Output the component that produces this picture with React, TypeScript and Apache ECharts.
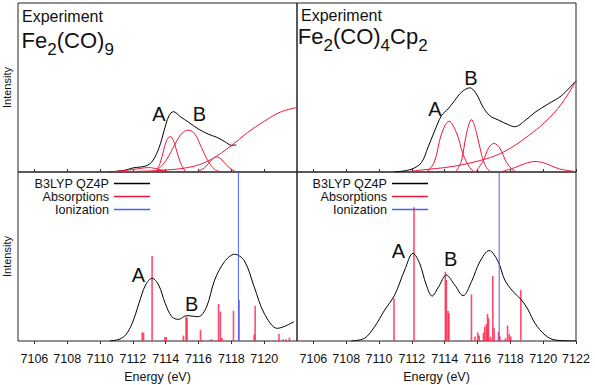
import React, { useEffect, useRef } from 'react';
import * as echarts from 'echarts';

// ---------- data ----------
const X_MIN = 7105;
const X_MAX = 7122;
const tickValuesLeft = [7106, 7108, 7110, 7112, 7114, 7116, 7118, 7120];
const tickValuesRight = [7106, 7108, 7110, 7112, 7114, 7116, 7118, 7120, 7122];

const panelTitles = ['Experiment', 'Experiment'];
const peakLabels = ['A', 'B'];
const legendNames = ['B3LYP QZ4P', 'Absorptions', 'Ionization'];

// Top-left: experiment Fe2(CO)9
const expFe2CO9: [number, number][] = [
  [7110.5, 0.0], [7111.5, 0.01], [7112.0, 0.024], [7112.8, 0.036], [7113.2, 0.065],
  [7113.6, 0.145], [7113.9, 0.244], [7114.2, 0.333], [7114.47, 0.357], [7114.9, 0.327],
  [7115.4, 0.294], [7116.0, 0.254], [7116.6, 0.224], [7117.1, 0.206], [7117.6, 0.18],
  [7118.0, 0.158], [7118.3, 0.16],
];
const fitFe2CO9Pre: [number, number][] = [
  [7110.56, 0.0], [7111.96, 0.014], [7112.97, 0.026], [7113.57, 0.016], [7114.17, 0.002],
];
const fitFe2CO9A: [number, number][] = [
  [7113.4, 0.0], [7113.65, 0.05], [7113.88, 0.13], [7114.05, 0.185], [7114.27, 0.21],
  [7114.48, 0.185], [7114.68, 0.12], [7114.92, 0.05], [7115.2, 0.0],
];
const fitFe2CO9B: [number, number][] = [
  [7113.37, 0.0], [7114.0, 0.065], [7114.57, 0.165], [7114.98, 0.228], [7115.38, 0.248],
  [7115.78, 0.224], [7116.18, 0.145], [7116.58, 0.065], [7116.98, 0.016], [7117.4, 0.0],
];
const fitFe2CO9C: [number, number][] = [
  [7115.98, 0.004], [7116.38, 0.026], [7116.78, 0.07], [7117.08, 0.089], [7117.39, 0.075],
  [7117.79, 0.032], [7118.19, 0.006], [7118.5, 0.0],
];
const fitFe2CO9Edge: [number, number][] = [
  [7110.56, 0.0], [7112.97, 0.006], [7114.57, 0.016], [7115.78, 0.036], [7116.78, 0.075],
  [7117.99, 0.155], [7118.99, 0.234], [7120.0, 0.3], [7121.0, 0.355], [7122.0, 0.382],
];

// Top-right: experiment Fe2(CO)4Cp2
const expFe2CO4Cp2: [number, number][] = [
  [7110.95, 0.0], [7111.96, 0.016], [7112.58, 0.056], [7112.98, 0.145], [7113.39, 0.244],
  [7113.8, 0.333], [7114.2, 0.373], [7114.61, 0.423], [7115.02, 0.472], [7115.53, 0.498],
  [7115.93, 0.462], [7116.34, 0.383], [7116.75, 0.333], [7117.26, 0.308], [7117.87, 0.28],
  [7118.27, 0.268], [7118.89, 0.304], [7119.5, 0.353], [7120.31, 0.403], [7121.12, 0.452],
  [7122.0, 0.54],
];
const fitCpA: [number, number][] = [
  [7112.78, 0.0], [7112.98, 0.006], [7113.39, 0.065], [7113.8, 0.224], [7114.26, 0.3],
  [7114.71, 0.234], [7115.12, 0.105], [7115.53, 0.026], [7115.83, 0.0],
];
const fitCpB: [number, number][] = [
  [7114.71, 0.006], [7115.02, 0.065], [7115.32, 0.224], [7115.63, 0.31], [7115.93, 0.234],
  [7116.24, 0.105], [7116.54, 0.026], [7116.84, 0.0],
];
const fitCpC: [number, number][] = [
  [7115.93, 0.006], [7116.34, 0.065], [7116.69, 0.145], [7117.01, 0.169], [7117.36, 0.141],
  [7117.77, 0.056], [7118.17, 0.01], [7118.47, 0.0],
];
const fitCpD: [number, number][] = [
  [7117.46, 0.002], [7118.27, 0.026], [7118.89, 0.05], [7119.5, 0.062], [7120.1, 0.052],
  [7120.92, 0.02], [7122.0, 0.002],
];
const fitCpEdge: [number, number][] = [
  [7111.76, 0.002], [7112.98, 0.016], [7114.0, 0.026], [7115.02, 0.042], [7116.04, 0.065],
  [7117.05, 0.095], [7118.07, 0.145], [7119.09, 0.214], [7120.1, 0.294], [7121.12, 0.403],
  [7122.0, 0.54],
];

// Bottom-left: B3LYP QZ4P Fe2(CO)9
const calcFe2CO9: [number, number][] = [
  [7110.6, 0.0], [7111.16, 0.01], [7111.56, 0.036], [7111.96, 0.105], [7112.37, 0.223],
  [7112.77, 0.331], [7113.17, 0.371], [7113.57, 0.331], [7113.97, 0.223], [7114.37, 0.144],
  [7114.78, 0.128], [7115.28, 0.15], [7115.98, 0.144], [7116.48, 0.2], [7116.98, 0.36],
  [7117.59, 0.47], [7118.19, 0.513], [7118.79, 0.475], [7119.39, 0.321], [7120.0, 0.164],
  [7120.8, 0.075], [7121.2, 0.085], [7121.82, 0.114],
];
const sticksFe2CO9: [number, number][] = [
  [7112.57, 0.051], [7112.65, 0.049], [7113.17, 0.503], [7113.95, 0.024], [7114.03, 0.024],
  [7115.08, 0.032], [7115.24, 0.144], [7115.3, 0.138], [7116.12, 0.065], [7116.22, 0.006],
  [7116.78, 0.012], [7117.22, 0.219], [7117.33, 0.174], [7117.43, 0.018], [7118.13, 0.179],
  [7118.47, 0.243], [7119.39, 0.039], [7119.45, 0.207], [7120.9, 0.041], [7121.16, 0.01],
  [7121.32, 0.01], [7121.54, 0.02],
];
const ionFe2CO9 = 7118.43;

// Bottom-right: B3LYP QZ4P Fe2(CO)4Cp2
const calcFe2CO4Cp2: [number, number][] = [
  [7108.3, 0.0], [7109.11, 0.016], [7109.73, 0.085], [7110.34, 0.183], [7110.95, 0.272],
  [7111.56, 0.42], [7112.07, 0.519], [7112.47, 0.46], [7112.88, 0.331], [7113.23, 0.266],
  [7113.63, 0.321], [7114.1, 0.39], [7114.61, 0.331], [7115.12, 0.268], [7115.63, 0.351],
  [7116.14, 0.469], [7116.71, 0.535], [7117.26, 0.469], [7117.66, 0.361], [7118.17, 0.292],
  [7118.68, 0.243], [7119.09, 0.183], [7119.5, 0.105], [7120.11, 0.036], [7120.72, 0.006],
  [7122.0, 0.0],
];
const sticksFe2CO4Cp2: [number, number][] = [
  [7110.91, 0.252], [7112.13, 0.791], [7114.04, 0.41], [7114.1, 0.361], [7114.2, 0.178],
  [7114.26, 0.164], [7115.63, 0.276], [7115.85, 0.026], [7116.02, 0.051], [7116.1, 0.032],
  [7116.36, 0.049], [7116.44, 0.085], [7116.54, 0.1], [7116.61, 0.16], [7116.67, 0.134],
  [7116.79, 0.026], [7116.93, 0.385], [7117.01, 0.075], [7117.28, 0.055], [7117.36, 0.026],
  [7117.7, 0.016], [7117.83, 0.091], [7117.93, 0.041], [7118.03, 0.026], [7118.64, 0.302],
];
const ionFe2CO4Cp2 = 7117.32;

// ---------- styles ----------
const FONT = 'Liberation Sans, Arial, Helvetica, sans-serif';
const RED = 'rgb(240,24,56)';
const STICK = 'rgba(255,30,70,0.8)';
const BLUE = '#4a62f0';
const BLACK = '#000';
const LEGEND_ICON = 'path://M0,0H36V1.3H0Z';

const W = 595;
const H = 385;
const PL = 18; // plot left
const PW = 279; // panel width
const PT = 3; // top
const PH = 169; // panel height

export default function App() {
  const ref = useRef<HTMLDivElement>(null);

  useEffect(() => {
    if (!ref.current) return;
    const chart = echarts.init(ref.current, undefined, { renderer: 'svg' });

    const grids = [
      { left: PL, top: PT, width: PW, height: PH },
      { left: PL + PW, top: PT, width: PW, height: PH },
      { left: PL, top: PT + PH, width: PW, height: PH },
      { left: PL + PW, top: PT + PH, width: PW, height: PH },
    ].map((g) => ({ ...g, show: true, borderColor: '#222', borderWidth: 1, backgroundColor: 'transparent' }));

    const xAxes = [0, 1, 2, 3].map((i) => {
      const bottom = i >= 2;
      const ticks = i % 2 === 0 ? tickValuesLeft : tickValuesRight;
      return {
        type: 'value',
        gridIndex: i,
        min: X_MIN,
        max: X_MAX,
        axisLine: { show: false },
        splitLine: { show: false },
        axisTick: {
          show: true,
          inside: !bottom,
          length: 3,
          customValues: ticks,
          lineStyle: { color: '#333', width: 1 },
        },
        axisLabel: {
          show: bottom,
          customValues: ticks,
          margin: 11,
          fontSize: 12.5,
          fontFamily: FONT,
          color: '#111',
          showMinLabel: true,
          showMaxLabel: true,
          formatter: (v: number) => String(v),
        },
        name: bottom ? 'Energy (eV)' : '',
        nameLocation: 'middle',
        nameGap: 29,
        nameTextStyle: { fontSize: 12.5, fontFamily: FONT, color: '#111' },
      };
    });

    const yAxes = [0, 1, 2, 3].map((i) => ({
      type: 'value',
      gridIndex: i,
      min: 0,
      max: 1,
      axisLine: { show: false },
      axisTick: { show: false },
      axisLabel: { show: false },
      splitLine: { show: false },
      name: i % 2 === 0 ? 'Intensity' : '',
      nameLocation: 'middle',
      nameGap: 6,
      nameTextStyle: { fontSize: 11, fontFamily: FONT, color: '#111' },
    }));

    const line = (name: string, data: [number, number][], idx: number, color: string, width = 1) => ({
      name,
      type: 'line',
      xAxisIndex: idx,
      yAxisIndex: idx,
      data,
      symbol: 'none',
      showSymbol: false,
      smooth: 0.35,
      silent: true,
      lineStyle: { color, width },
      itemStyle: { color },
    });

    const sticks = (data: [number, number][], idx: number) => ({
      name: legendNames[1],
      type: 'bar',
      xAxisIndex: idx,
      yAxisIndex: idx,
      data,
      barWidth: 1.6,
      silent: true,
      itemStyle: { color: STICK },
    });

    const ion = (x: number, idx: number) => ({
      name: legendNames[2],
      type: 'line',
      xAxisIndex: idx,
      yAxisIndex: idx,
      data: [[x, 0], [x, 1]],
      symbol: 'none',
      silent: true,
      lineStyle: { color: BLUE, width: 1 },
      itemStyle: { color: BLUE },
      z: 5,
    });

    const series = [
      line('Experiment Fe2(CO)9', expFe2CO9, 0, BLACK),
      line('Fit', fitFe2CO9Pre, 0, RED),
      line('Fit', fitFe2CO9A, 0, RED),
      line('Fit', fitFe2CO9B, 0, RED),
      line('Fit', fitFe2CO9C, 0, RED),
      line('Fit', fitFe2CO9Edge, 0, RED),
      line('Experiment Fe2(CO)4Cp2', expFe2CO4Cp2, 1, BLACK),
      line('Fit', fitCpA, 1, RED),
      line('Fit', fitCpB, 1, RED),
      line('Fit', fitCpC, 1, RED),
      line('Fit', fitCpD, 1, RED),
      line('Fit', fitCpEdge, 1, RED),
      line(legendNames[0], calcFe2CO9, 2, BLACK),
      sticks(sticksFe2CO9, 2),
      ion(ionFe2CO9, 2),
      line(legendNames[0], calcFe2CO4Cp2, 3, BLACK),
      sticks(sticksFe2CO4Cp2, 3),
      ion(ionFe2CO4Cp2, 3),
    ];

    const legendColors = [BLACK, RED, BLUE];
    const legendData = legendNames.map((n, i) => ({
      name: n,
      icon: LEGEND_ICON,
      itemStyle: { color: legendColors[i] },
    }));
    const mkLegend = (right: number) => ({
      selectedMode: false,
      orient: 'vertical',
      align: 'right',
      right,
      top: 177,
      padding: 0,
      itemGap: 0,
      itemWidth: 36,
      itemHeight: 12,
      textStyle: { fontSize: 12.6, lineHeight: 12, fontFamily: FONT, color: '#111' },
      data: legendData,
    });

    const labelFont = `20px ${FONT}`;
    const txt = (text: string, x: number, y: number, font = labelFont) => ({
      type: 'text',
      silent: true,
      style: { text, x, y, font, fill: '#111', textAlign: 'center', textVerticalAlign: 'middle', align: 'center', verticalAlign: 'middle' },
    });
    const formula = (text: string, x: number, y: number) => ({
      type: 'text',
      silent: true,
      style: {
        text,
        x,
        y,
        fill: '#111',
        align: 'left',
        verticalAlign: 'top',
        rich: {
          m: { fontSize: 22, lineHeight: 35, fontFamily: FONT, color: '#111' },
          s: { fontSize: 17, lineHeight: 17, fontFamily: FONT, color: '#111', verticalAlign: 'bottom' },
        },
      },
    });
    const titleText = (text: string, x: number, y: number) => ({
      type: 'text',
      silent: true,
      style: { text, x, y, font: `16px ${FONT}`, fill: '#111', align: 'left', verticalAlign: 'middle', textAlign: 'left', textVerticalAlign: 'middle' },
    });

    chart.setOption({
      animation: false,
      backgroundColor: '#fff',
      textStyle: { fontFamily: FONT },
      grid: grids,
      xAxis: xAxes,
      yAxis: yAxes,
      legend: [mkLegend(W - 150), mkLegend(W - 428)],
      series,
      graphic: [
        titleText(panelTitles[0], 22, 16.4),
        titleText(panelTitles[1], 301, 15.4),
        formula('{m|Fe}{s|2}{m|(CO)}{s|9}', 21.6, 22.5),
        formula('{m|Fe}{s|2}{m|(CO)}{s|4}{m|Cp}{s|2}', 297.8, 19.2),
        txt(peakLabels[0], 159, 114),
        txt(peakLabels[1], 199.5, 114),
        txt(peakLabels[0], 435, 109),
        txt(peakLabels[1], 471, 77.5),
        txt(peakLabels[0], 138.3, 275),
        txt(peakLabels[1], 191.7, 303.5),
        txt(peakLabels[0], 398.3, 250.8),
        txt(peakLabels[1], 450.7, 259),
      ],
    });

    return () => chart.dispose();
  }, []);

  return (
    <div
      ref={ref}
      style={{ position: 'fixed', left: 0, top: 0, width: W, height: H, background: '#fff' }}
    />
  );
}
